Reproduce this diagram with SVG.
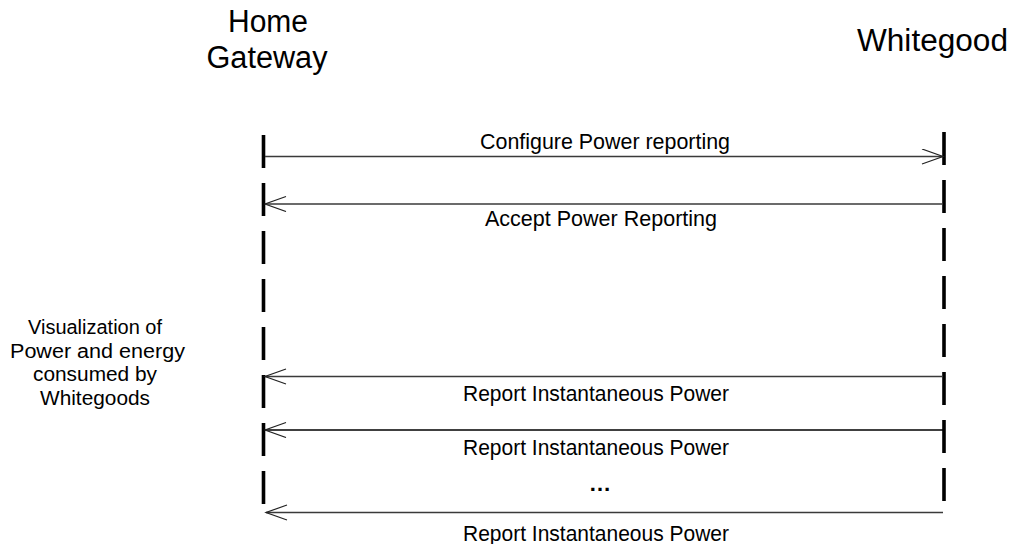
<svg xmlns="http://www.w3.org/2000/svg" width="1014" height="544" viewBox="0 0 1014 544">
<style>
.title{font-family:"Liberation Sans",Arial,sans-serif;font-size:31px;fill:#000;text-anchor:middle}
.msg{font-family:"Liberation Sans",Arial,sans-serif;font-size:22.5px;fill:#000;text-anchor:middle}
.note{font-family:"Liberation Sans",Arial,sans-serif;font-size:20px;fill:#000;text-anchor:middle}
.life{stroke:#000;stroke-width:3.6;stroke-dasharray:33 15;fill:none}
.conn{stroke:#3a3a3a;stroke-width:1.3;fill:none}
</style>
<defs>
<marker id="open" markerWidth="24" markerHeight="18" refX="22" refY="8" orient="auto" markerUnits="userSpaceOnUse">
<path d="M1,0.5 L22,8 L1,15.5" fill="none" stroke="#222" stroke-width="1.2"/>
</marker>
</defs>
<rect width="1014" height="544" fill="#fff"/>
<g id="home-gateway">
<text class="title" x="268" y="32" textLength="80" lengthAdjust="spacingAndGlyphs">Home</text>
<text class="title" x="267" y="68" textLength="121" lengthAdjust="spacingAndGlyphs">Gateway</text>
<line class="life" x1="263.5" y1="135" x2="263.5" y2="504"/>
</g>
<g id="whitegood">
<text class="title" x="932.5" y="51" textLength="151" lengthAdjust="spacingAndGlyphs">Whitegood</text>
<line class="life" x1="944" y1="132" x2="944" y2="501"/>
</g>
<g id="note">
<text class="note" x="95" y="334" textLength="134" lengthAdjust="spacingAndGlyphs">Visualization of</text>
<text class="note" x="97.5" y="357.5" textLength="175" lengthAdjust="spacingAndGlyphs">Power and energy</text>
<text class="note" x="95" y="381" textLength="124" lengthAdjust="spacingAndGlyphs">consumed by</text>
<text class="note" x="95" y="404.5" textLength="110" lengthAdjust="spacingAndGlyphs">Whitegoods</text>
</g>
<g id="connectors">
<line class="conn" x1="265" y1="156.5" x2="943" y2="156.5" marker-end="url(#open)"/>
<line class="conn" x1="943" y1="204" x2="265" y2="204" marker-end="url(#open)"/>
<line class="conn" x1="943" y1="376.5" x2="265" y2="376.5" marker-end="url(#open)"/>
<line class="conn" x1="943" y1="430" x2="265" y2="430" marker-end="url(#open)" style="stroke:#000"/>
<line class="conn" x1="943" y1="512.5" x2="266" y2="512.5" marker-end="url(#open)"/>
</g>
<g id="labels">
<text class="msg" x="605" y="149" textLength="250" lengthAdjust="spacingAndGlyphs">Configure Power reporting</text>
<text class="msg" x="601" y="226" textLength="232" lengthAdjust="spacingAndGlyphs">Accept Power Reporting</text>
<text class="msg" x="596" y="401" textLength="266" lengthAdjust="spacingAndGlyphs">Report Instantaneous Power</text>
<text class="msg" x="596" y="455" textLength="266" lengthAdjust="spacingAndGlyphs">Report Instantaneous Power</text>
<text class="msg" x="600" y="491" style="font-weight:bold">…</text>
<text class="msg" x="596" y="541" textLength="266" lengthAdjust="spacingAndGlyphs">Report Instantaneous Power</text>
</g>
</svg>
